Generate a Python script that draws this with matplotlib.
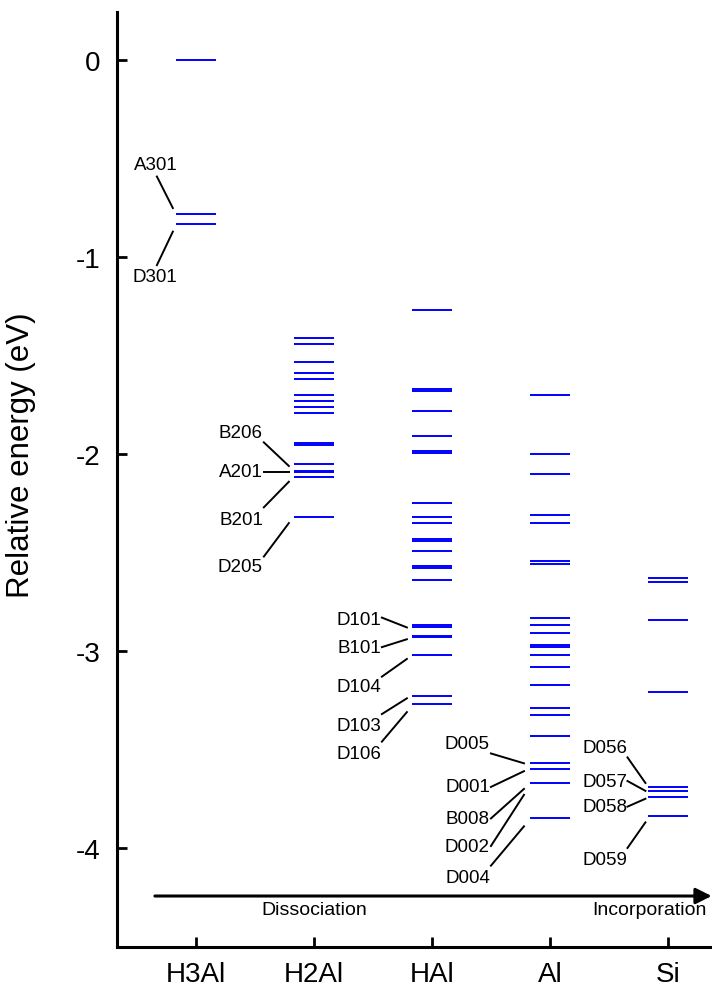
import matplotlib
matplotlib.use('Agg')
import matplotlib.pyplot as plt

plt.rcParams['font.family'] = ['Liberation Sans', 'DejaVu Sans']
plt.rcParams['axes.unicode_minus'] = False

# energy levels (eV)
columns = ['H3Al', 'H2Al', 'HAl', 'Al', 'Si']
h3al = [0.0, -0.78, -0.83]
h2al = [-1.41, -1.44, -1.53, -1.59, -1.62, -1.70, -1.73, -1.76, -1.79,
        -1.945, -1.953, -2.05, -2.085, -2.092, -2.115, -2.32]
hal = [-1.27, -1.667, -1.679, -1.78, -1.91, -1.985, -1.995, -2.25, -2.32,
       -2.35, -2.43, -2.443, -2.49, -2.57, -2.58, -2.64, -2.87, -2.88,
       -2.925, -2.93, -3.02, -3.23, -3.27]
al = [-1.70, -2.00, -2.10, -2.31, -2.35, -2.545, -2.56, -2.83, -2.87, -2.91,
      -2.97, -2.98, -3.02, -3.08, -3.17, -3.29, -3.325, -3.43, -3.57, -3.60,
      -3.67, -3.85]
si = [-2.63, -2.65, -2.84, -3.21, -3.69, -3.71, -3.74, -3.84]
levels = [h3al, h2al, hal, al, si]

# labels: column, name, text y, leader start y, leader end y
lab_col = [1, 1, 2, 2, 2, 2, 3, 3, 3, 3, 3, 4, 4, 4, 4, 4, 5, 5, 5, 5]
lab_name = ['A301', 'D301', 'B206', 'A201', 'B201', 'D205',
            'D101', 'B101', 'D104', 'D103', 'D106',
            'D005', 'D001', 'B008', 'D002', 'D004',
            'D056', 'D057', 'D058', 'D059']
lab_text_y = [-0.53, -1.10, -1.89, -2.09, -2.33, -2.57,
              -2.84, -2.98, -3.18, -3.38, -3.52,
              -3.47, -3.69, -3.85, -3.99, -4.15,
              -3.49, -3.66, -3.79, -4.06]
lab_start_y = [-0.59, -1.04, -1.94, -2.09, -2.27, -2.52,
               -2.83, -2.98, -3.13, -3.32, -3.46,
               -3.52, -3.69, -3.85, -3.99, -4.09,
               -3.54, -3.66, -3.79, -4.00]
lab_end_y = [-0.75, -0.87, -2.06, -2.09, -2.14, -2.35,
             -2.88, -2.94, -3.04, -3.24, -3.31,
             -3.57, -3.61, -3.70, -3.73, -3.89,
             -3.67, -3.71, -3.75, -3.87]

half = 0.17
# x offsets (text right edge, leader start, leader end) per column
dx = {1: (None, -0.33, -0.195), 2: (-0.432, -0.424, -0.212),
      3: (-0.432, -0.424, -0.212), 4: (-0.508, -0.50, -0.22),
      5: (-0.343, -0.343, -0.191)}

fig = plt.figure(figsize=(7.12, 9.87), dpi=100)
ax = fig.add_axes([0.164, 0.0395, 0.836, 0.947])

for i, lv in enumerate(levels):
    x = i + 1
    ax.hlines(lv, x - half, x + half, color='blue', lw=1.4)

for c, name, ty, sy, ey in zip(lab_col, lab_name, lab_text_y, lab_start_y, lab_end_y):
    tdx, sdx, edx = dx[c]
    if tdx is None:
        ax.text(c - 0.343, ty, name, ha='center', va='center', fontsize=13.5)
    else:
        ax.text(c + tdx, ty, name, ha='right', va='center', fontsize=13.5)
    ax.plot([c + sdx, c + edx], [sy, ey], color='black', lw=1.4)

# process arrow
ax.annotate('', xy=(5.37, -4.244), xytext=(0.653, -4.244),
            arrowprops=dict(arrowstyle='-|>', lw=2.2, color='black',
                            mutation_scale=24, shrinkA=0, shrinkB=0),
            annotation_clip=False)
ax.text(2.0, -4.315, 'Dissociation', ha='center', va='center', fontsize=14)
ax.text(4.84, -4.315, 'Incorporation', ha='center', va='center', fontsize=14)

ax.set_xlim(0.33, 5.373)
ax.set_ylim(-4.503, 0.244)
ax.set_xticks(range(1, 6))
ax.set_xticklabels(columns)
ax.set_yticks([0, -1, -2, -3, -4])
ax.set_yticklabels(['0', '-1', '-2', '-3', '-4'])
ax.tick_params(direction='in', length=7, width=2, labelsize=20)
ax.tick_params(axis='y', pad=12)
ax.tick_params(axis='x', pad=10)
for s in ['top', 'right']:
    ax.spines[s].set_visible(False)
for s in ['left', 'bottom']:
    ax.spines[s].set_linewidth(2.2)
ax.set_ylabel('Relative energy (eV)', fontsize=22.5)
ax.yaxis.set_label_coords(-0.136, 0.527)

fig.savefig('out.png', dpi=100)
